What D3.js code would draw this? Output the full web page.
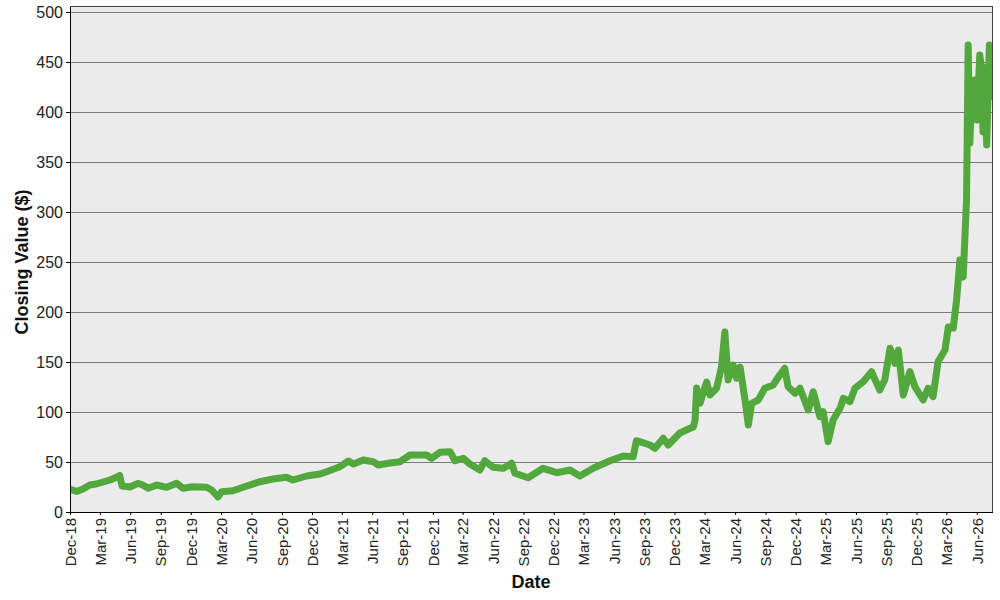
<!DOCTYPE html>
<html>
<head>
<meta charset="utf-8">
<script src="https://cdn.jsdelivr.net/npm/d3@7"></script>
<style>
  html, body { margin: 0; padding: 0; background: #ffffff; }
  svg { display: block; font-family: "Liberation Sans", Arial, sans-serif; }
</style>
</head>
<body>
<svg id="chart" width="1000" height="600"></svg>
<script>
// ---- data ----
const dates = [
  "2018-12-01","2018-12-21","2019-01-09","2019-01-30","2019-02-18","2019-03-11","2019-04-01","2019-04-22","2019-04-30","2019-05-07",
  "2019-05-31","2019-06-24","2019-07-09","2019-07-25","2019-08-20","2019-09-19","2019-10-19","2019-11-07","2019-12-07","2020-01-18",
  "2020-02-02","2020-02-21","2020-03-03","2020-04-06","2020-05-18","2020-06-27","2020-08-05","2020-09-15","2020-10-04","2020-11-15",
  "2020-12-25","2021-01-14","2021-02-23","2021-03-21","2021-04-05","2021-05-05","2021-06-04","2021-06-19","2021-07-24","2021-08-24",
  "2021-09-23","2021-11-12","2021-11-27","2021-12-22","2022-01-22","2022-02-06","2022-03-03","2022-03-23","2022-04-22","2022-05-07",
  "2022-06-01","2022-07-02","2022-07-27","2022-08-06","2022-09-15","2022-10-30","2022-12-10","2023-01-19","2023-02-18","2023-03-30",
  "2023-05-20","2023-06-29","2023-07-29","2023-08-08","2023-09-18","2023-10-03","2023-10-28","2023-11-12","2023-12-17","2024-01-17",
  "2024-01-27","2024-02-01","2024-02-06","2024-02-16","2024-03-07","2024-03-17","2024-04-06","2024-04-21","2024-05-01","2024-05-11",
  "2024-05-26","2024-06-06","2024-06-16","2024-07-01","2024-07-11","2024-07-21","2024-08-10","2024-08-30","2024-09-24","2024-10-14",
  "2024-10-29","2024-11-08","2024-11-29","2024-12-14","2025-01-08","2025-01-23","2025-02-12","2025-02-22","2025-03-09","2025-03-24",
  "2025-04-14","2025-04-24","2025-05-14","2025-05-29","2025-06-23","2025-07-18","2025-08-12","2025-08-27","2025-09-12","2025-09-27",
  "2025-10-07","2025-10-22","2025-11-11","2025-11-26","2025-12-21","2026-01-05","2026-01-20","2026-02-04","2026-02-25","2026-03-07",
  "2026-03-22","2026-04-01","2026-04-11","2026-04-21","2026-05-01","2026-05-06","2026-05-11","2026-05-16","2026-05-26","2026-06-02",
  "2026-06-10","2026-06-15","2026-06-20","2026-06-26","2026-07-01","2026-07-09","2026-07-14"
];
const closingValues = [
  23, 20.5, 23, 27, 28, 30, 32, 35, 36.5, 26,
  25, 28.7, 27, 23.7, 27, 24.7, 28.7, 23.7, 25.3, 24.7,
  22, 15, 20.3, 21.3, 26, 30.3, 33, 34.7, 32, 36,
  38, 40.3, 45.3, 51, 48, 52, 50.3, 47, 49, 50.3,
  57, 57, 53.7, 59.7, 60.3, 51.3, 53.7, 48, 42, 51.3,
  44.7, 43.7, 48.7, 38.7, 34.3, 43.7, 39.3, 42, 36, 43.7,
  51.3, 56, 55.3, 71.3, 67, 63.7, 73.7, 67, 79, 83.7,
  85, 92, 124, 108.7, 130, 117, 123.7, 145, 180, 132,
  147, 133.7, 145, 112, 87, 108.7, 112, 123.7, 127, 137,
  143.7, 125.3, 118.7, 123.7, 102, 120.3, 95.3, 100.3, 70.3, 92,
  103.7, 113.7, 110.3, 123.7, 130.3, 140.3, 122, 132, 163.7, 148.7,
  162, 117, 140.3, 125.3, 112, 123.7, 115.3, 150.3, 162, 185,
  184, 212, 252, 235, 312, 467, 369, 412, 432, 392,
  457, 445, 380, 444, 367, 467, 412
];
const yTickValues = [0, 50, 100, 150, 200, 250, 300, 350, 400, 450, 500];
const xTickLabels = [
  "Dec-18","Mar-19","Jun-19","Sep-19","Dec-19","Mar-20","Jun-20","Sep-20","Dec-20","Mar-21","Jun-21",
  "Sep-21","Dec-21","Mar-22","Jun-22","Sep-22","Dec-22","Mar-23","Jun-23","Sep-23","Dec-23",
  "Mar-24","Jun-24","Sep-24","Dec-24","Mar-25","Jun-25","Sep-25","Dec-25","Mar-26","Jun-26"
];
const xDomain = ["2018-12-01", "2026-07-17"];
const yTitle = "Closing Value ($)";
const xTitle = "Date";

// ---- layout ----
const mLeft = 70, mRight = 992, mTop = 6, mBottom = 512;
const parseDay = d3.timeParse("%Y-%m-%d");
const parseTick = d3.timeParse("%b-%y");
const series = dates.map((d, i) => ({ date: parseDay(d), value: closingValues[i] }));

const x = d3.scaleTime().domain(xDomain.map(parseDay)).range([mLeft, mRight]);
const y = d3.scaleLinear().domain([0, 506]).range([mBottom, mTop]);

const svg = d3.select("#chart");

// plot background
svg.append("rect")
  .attr("x", mLeft).attr("y", mTop)
  .attr("width", mRight - mLeft).attr("height", mBottom - mTop)
  .attr("fill", "#ebebeb");

// gridlines
svg.append("g").selectAll("line")
  .data(yTickValues.filter(v => v > 0))
  .join("line")
  .attr("x1", mLeft).attr("x2", mRight)
  .attr("y1", d => y(d)).attr("y2", d => y(d))
  .attr("stroke", "#7a7a7a").attr("stroke-width", 1)
  .attr("shape-rendering", "crispEdges");

// clip
svg.append("clipPath").attr("id", "plotClip")
  .append("rect").attr("x", mLeft).attr("y", mTop)
  .attr("width", mRight - mLeft).attr("height", mBottom - mTop);

// line
const line = d3.line().x(d => x(d.date)).y(d => y(d.value));
svg.append("path")
  .datum(series)
  .attr("clip-path", "url(#plotClip)")
  .attr("d", line)
  .attr("fill", "none")
  .attr("stroke", "#52a83c")
  .attr("stroke-width", 7)
  .attr("stroke-linejoin", "round")
  .attr("stroke-linecap", "butt");

// border (top & right)
svg.append("path")
  .attr("d", `M${mLeft},${mTop}H${mRight}V${mBottom}`)
  .attr("fill", "none").attr("stroke", "#444").attr("stroke-width", 1)
  .attr("shape-rendering", "crispEdges");

// y axis
const yAxis = svg.append("g")
  .attr("transform", `translate(${mLeft},0)`)
  .call(d3.axisLeft(y).tickValues(yTickValues).tickSize(4).tickPadding(3).tickSizeOuter(0));
yAxis.select(".domain").attr("stroke", "#000").attr("shape-rendering", "crispEdges");
yAxis.selectAll(".tick line").attr("stroke", "#000");
yAxis.selectAll("text").attr("font-size", 16).attr("fill", "#222")
  .attr("font-family", "Liberation Sans, Arial, sans-serif");

// x axis
const xTicks = xTickLabels.map(parseTick);
const xAxis = svg.append("g")
  .attr("transform", `translate(0,${mBottom})`)
  .call(d3.axisBottom(x).tickValues(xTicks).tickSize(3).tickSizeOuter(0)
    .tickFormat((d, i) => xTickLabels[i]));
xAxis.select(".domain").attr("stroke", "#000").attr("shape-rendering", "crispEdges");
xAxis.selectAll(".tick line").attr("stroke", "#000");
xAxis.selectAll("text")
  .attr("font-size", 15).attr("fill", "#222")
  .attr("font-family", "Liberation Sans, Arial, sans-serif")
  .attr("text-anchor", "end")
  .attr("transform", "rotate(-90)")
  .attr("x", -6).attr("y", 0).attr("dy", "0.35em");

// titles
svg.append("text")
  .attr("transform", `translate(28,${(mTop + mBottom) / 2 + 3}) rotate(-90)`)
  .attr("text-anchor", "middle")
  .attr("font-size", 18).attr("font-weight", "bold").attr("fill", "#111")
  .text(yTitle);
svg.append("text")
  .attr("x", (mLeft + mRight) / 2).attr("y", 588)
  .attr("text-anchor", "middle")
  .attr("font-size", 18).attr("font-weight", "bold").attr("fill", "#111")
  .text(xTitle);
</script>
</body>
</html>
